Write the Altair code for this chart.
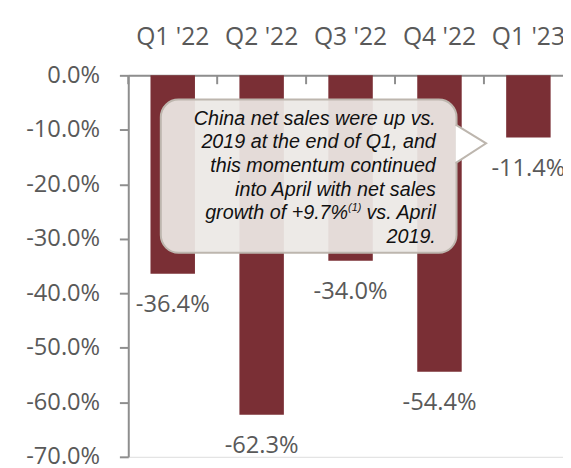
import altair as alt
import pandas as pd

quarters = ["Q1 '22", "Q2 '22", "Q3 '22", "Q4 '22", "Q1 '23"]
growth = [-36.4, -62.3, -34.0, -54.4, -11.4]
y_ticks = [0, -10, -20, -30, -40, -50, -60, -70]
# callout text; line 5 is "growth of +9.7%(1) vs. April", split so the (1) can be superscript
callout_lines = [
    "China net sales were up vs.",
    "2019 at the end of Q1, and",
    "this momentum continued",
    "into April with net sales",
    "vs. April",
    "2019.",
]
callout_line5_start = "growth of +9.7%"
callout_sup = "(1)"

BAR = "#7A2F35"
AXIS = "#8E8E8E"
TXT = "#595959"
FONT = "Open Sans"
NOTE_FONT = "Liberation Sans"

df = pd.DataFrame({"quarter": quarters, "growth": growth})
df["label"] = [f"{v:.1f}%" for v in growth]
one = pd.DataFrame({"k": [0]})

xscale = alt.Scale(range=[0, 451], paddingInner=0, paddingOuter=0)
yscale = alt.Scale(domain=[-70, 0], nice=False)

x_axis = alt.Axis(
    orient="top", title=None, labelAngle=0, ticks=False, tickSize=0,
    domainColor=AXIS, domainWidth=2, labelFont=FONT, labelFontSize=25,
    labelColor=TXT, labelPadding=26,
)
y_axis = alt.Axis(
    values=y_ticks, title=None, grid=False,
    labelExpr="(datum.value < 0 ? '-' : '') + format(abs(datum.value), '.1f') + '%'",
    tickSize=9, tickColor=AXIS, tickWidth=2, domainColor=AXIS, domainWidth=2,
    labelFont=FONT, labelFontSize=24, labelColor=TXT, labelPadding=20,
)

base = alt.Chart(df)

bars = base.mark_bar(width=alt.RelativeBandSize(0.5), color=BAR).encode(
    x=alt.X("quarter:N", sort=quarters, scale=xscale, axis=x_axis),
    y=alt.Y("growth:Q", scale=yscale, axis=y_axis),
)

ticks = base.mark_rule(color=AXIS, strokeWidth=2).encode(
    x=alt.X("quarter:N", sort=quarters, bandPosition=0),
    y=alt.value(0),
    y2=alt.value(9),
)

labels = base.mark_text(dy=32, font=FONT, fontSize=24, color=TXT, baseline="middle").encode(
    x=alt.X("quarter:N", sort=quarters),
    y=alt.Y("growth:Q"),
    text="label:N",
)

box = alt.Chart(one).mark_rect(
    cornerRadius=18, fill="#ECE8E5", fillOpacity=0.93, stroke="#BDB6AE", strokeWidth=2
).encode(
    x=alt.value(33), x2=alt.value(333), y=alt.value(24.5), y2=alt.value(180)
)

pointer = alt.Chart(one).mark_point(
    shape="M -16 -19.5 L 15 -0.5 L -16 19.5", size=4, fill="#FFFFFF", fillOpacity=1,
    stroke="#BDB6AE", strokeWidth=2, opacity=1,
).encode(x=alt.value(348), y=alt.value(69.5))

note_style = dict(font=NOTE_FONT, fontStyle="italic", color="#111111")

note = alt.Chart(one).mark_text(
    fontSize=20, align="right", baseline="middle", lineHeight=24, **note_style
).encode(x=alt.value(312), y=alt.value(44), text=alt.value(callout_lines))

note5a = alt.Chart(one).mark_text(
    fontSize=20, align="right", baseline="middle", **note_style
).encode(x=alt.value(223), y=alt.value(140), text=alt.value(callout_line5_start))

note5sup = alt.Chart(one).mark_text(
    fontSize=11, align="left", baseline="middle", **note_style
).encode(x=alt.value(223), y=alt.value(135), text=alt.value(callout_sup))

chart = alt.layer(bars, ticks, labels, box, pointer, note, note5a, note5sup).properties(
    width=441, height=387,
    autosize=alt.AutoSizeParams(type="none"),
    padding={"left": 122, "top": 65, "right": 0, "bottom": 6},
).configure_view(stroke=None).configure(background="white")

chart.save("out.html", embed_options={"renderer": "svg", "actions": False})
